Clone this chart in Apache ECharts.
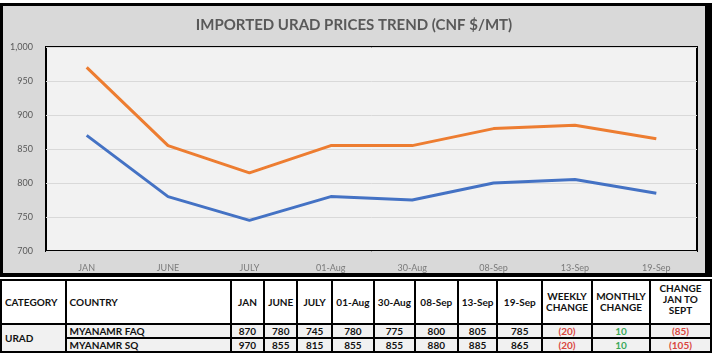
<!DOCTYPE html>
<html>
<head>
<meta charset="utf-8">
<script src="https://cdn.jsdelivr.net/npm/echarts@6/dist/echarts.min.js"></script>
<style>
  html, body { margin: 0; padding: 0; background: #fff; width: 712px; height: 354px; overflow: hidden; }
  #chart { position: absolute; left: 0; top: 3px; width: 712px; height: 274px; box-sizing: border-box;
           border-style: solid; border-color: #000; border-width: 3px 7px 4px 3px; background: #d9d9d9; }
  #tbl { position: absolute; left: 0; top: 279px; border-collapse: collapse; table-layout: fixed;
         font-family: "Liberation Sans Narrow", "Lato", sans-serif; font-weight: bold; font-size: 10px; color: #111; }
  #tbl td { border: 2px solid #000; padding: 0 3px; overflow: hidden; white-space: nowrap; line-height: 11px; }
  #tbl tr.h td { height: 40px; background: #fff; }
  #tbl tr.d td { height: 12px; background: #f1f1f1; text-align: center; }
  #tbl td.l { text-align: left !important; }
  #tbl td.c { text-align: center; }
  .red { color: #d9463e; }
  .green { color: #3aa85a; }
</style>
</head>
<body>
<div id="chart"></div>
<table id="tbl"></table>
<script>
// ---- data ----
const categories = ["JAN", "JUNE", "JULY", "01-Aug", "30-Aug", "08-Sep", "13-Sep", "19-Sep"];
const myanmarFAQ = [870, 780, 745, 780, 775, 800, 805, 785];
const myanmarSQ  = [970, 855, 815, 855, 855, 880, 885, 865];
const seriesNames = ["MYANAMR FAQ", "MYANAMR SQ"];
const weeklyChange = ["(20)", "(20)"];
const monthlyChange = ["10", "10"];
const janToSeptChange = ["(85)", "(105)"];
const tableCategory = "URAD";
const yTicks = [700, 750, 800, 850, 900, 950, 1000];

// ---- chart ----
const chart = echarts.init(document.getElementById('chart'), null, { renderer: 'canvas' });
chart.setOption({
  backgroundColor: '#d9d9d9',
  animation: false,
  title: {
    text: 'IMPORTED URAD PRICES TREND (CNF $/MT)',
    left: 'center', top: 7,
    textStyle: { fontFamily: 'Lato', fontWeight: 'bold', fontSize: 15, color: '#595959' }
  },
  grid: {
    left: 43, top: 41, width: 651, height: 204,
    show: true, backgroundColor: '#f2f2f2', borderColor: '#000', borderWidth: 2
  },
  xAxis: {
    type: 'category', data: categories, boundaryGap: true,
    axisLine: { show: false }, axisTick: { show: false },
    axisLabel: { color: '#7a7a7a', fontFamily: 'Lato', fontSize: 9, margin: 13 }
  },
  yAxis: {
    type: 'value', min: yTicks[0], max: yTicks[yTicks.length - 1], interval: 50,
    axisLine: { show: false }, axisTick: { show: false },
    splitLine: { lineStyle: { color: '#d9d9d9', width: 1 } },
    axisLabel: { color: '#595959', fontFamily: 'Lato', fontSize: 9, margin: 13,
      formatter: v => v.toLocaleString('en-US') }
  },
  series: [
    { name: seriesNames[0], type: 'line', data: myanmarFAQ, symbol: 'none',
      lineStyle: { color: '#4472c4', width: 3 }, itemStyle: { color: '#4472c4' } },
    { name: seriesNames[1], type: 'line', data: myanmarSQ, symbol: 'none',
      lineStyle: { color: '#ed7d31', width: 3 }, itemStyle: { color: '#ed7d31' } }
  ]
});

// ---- table ----
const colWidths = [65, 173, 34, 33, 35, 42, 37, 43, 35, 45, 50, 58, 62];
const tbl = document.getElementById('tbl');
const cg = document.createElement('colgroup');
colWidths.forEach(w => { const c = document.createElement('col'); c.style.width = w + 'px'; cg.appendChild(c); });
tbl.appendChild(cg);
let html = '<tr class="h"><td class="l">CATEGORY</td><td class="l">COUNTRY</td>';
categories.forEach(c => { html += '<td class="c">' + c + '</td>'; });
html += '<td class="c">WEEKLY<br>CHANGE</td><td class="c">MONTHLY<br>CHANGE</td><td class="c" style="vertical-align:top;padding-top:2px">CHANGE<br>JAN TO<br>SEPT</td></tr>';
const rows = [myanmarFAQ, myanmarSQ];
rows.forEach((r, i) => {
  html += '<tr class="d">';
  if (i === 0) html += '<td class="l" rowspan="2">' + tableCategory + '</td>';
  html += '<td class="l">' + seriesNames[i] + '</td>';
  r.forEach(v => { html += '<td>' + v + '</td>'; });
  html += '<td class="red">' + weeklyChange[i] + '</td><td class="green">' + monthlyChange[i] + '</td><td class="red">' + janToSeptChange[i] + '</td></tr>';
});
tbl.insertAdjacentHTML('beforeend', html);
</script>
</body>
</html>
